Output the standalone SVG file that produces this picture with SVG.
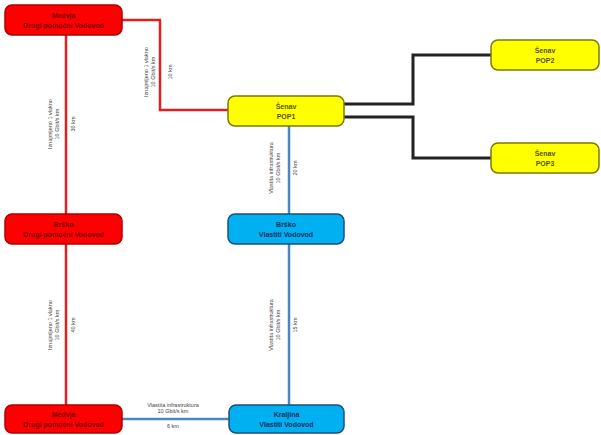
<svg xmlns="http://www.w3.org/2000/svg" width="601" height="435" viewBox="0 0 601 435">
<style>
.n rect{stroke-width:1.5}
.red rect{fill:#FF0000;stroke:#B00000}
.yel rect{fill:#FFFF00;stroke:#7A7A00}
.blu rect{fill:#00B0F0;stroke:#1F4E79}
.n text{font-family:"Liberation Sans",Arial,sans-serif;font-size:7px;font-weight:bold;text-anchor:middle}
.red text{fill:#7a0000}
.yel text{fill:#555500}
.blu text{fill:#003060}
.lr{stroke:#E02020;stroke-width:2.5;fill:none}
.lb{stroke:#4A86C0;stroke-width:2.5;fill:none}
.lk{stroke:#222;stroke-width:3;fill:none}
.lab{font-family:"Liberation Sans",Arial,sans-serif;font-size:5.5px;fill:#444;text-anchor:middle}
</style>
<rect width="601" height="435" fill="#fff"/>
<g id="connectors">
<path class="lr" d="M66 35V214M66 244V405"/>
<path class="lr" d="M122 20H160V110H228"/>
<path class="lb" d="M289 126V214M289 244V405M122 419H229"/>
<path class="lk" d="M344 104H413V55H491"/>
<path class="lk" d="M344 117H413V158H491"/>
<g class="lab">
<text transform="translate(148,72) rotate(-90)">Iznajmljeno 1 vlakno</text>
<text transform="translate(155,72) rotate(-90)">10 Gbit/s km</text>
<text transform="translate(172,72) rotate(-90)">10 km</text>
<text transform="translate(52,124) rotate(-90)">Iznajmljeno 1 vlakno</text>
<text transform="translate(59,124) rotate(-90)">10 Gbit/s km</text>
<text transform="translate(75,124) rotate(-90)">30 km</text>
<text transform="translate(52,325) rotate(-90)">Iznajmljeno 1 vlakno</text>
<text transform="translate(59,325) rotate(-90)">10 Gbit/s km</text>
<text transform="translate(75,325) rotate(-90)">40 km</text>
<text transform="translate(273,168) rotate(-90)">Vlastita infrastruktura</text>
<text transform="translate(280,168) rotate(-90)">10 Gbit/s km</text>
<text transform="translate(297,168) rotate(-90)">20 km</text>
<text transform="translate(273,325) rotate(-90)">Vlastita infrastruktura</text>
<text transform="translate(280,325) rotate(-90)">10 Gbit/s km</text>
<text transform="translate(297,325) rotate(-90)">15 km</text>
<text x="173" y="407">Vlastita infrastruktura</text>
<text x="173" y="413">10 Gbit/s km</text>
<text x="173" y="428">6 km</text>
</g>
</g>
<g id="n_medvja" class="n red"><rect x="5" y="5" width="117" height="30" rx="7"/><text x="63.5" y="18">Medvja</text><text x="63.5" y="28">Drugi pomoćni Vodovod</text></g>
<g id="n_pop1" class="n yel"><rect x="228" y="96" width="116" height="30" rx="7"/><text x="286" y="109">Šenav</text><text x="286" y="119">POP1</text></g>
<g id="n_pop2" class="n yel"><rect x="491" y="40" width="108" height="30" rx="7"/><text x="545" y="53">Šenav</text><text x="545" y="63">POP2</text></g>
<g id="n_pop3" class="n yel"><rect x="491" y="143" width="108" height="30" rx="7"/><text x="545" y="156">Šenav</text><text x="545" y="166">POP3</text></g>
<g id="n_brsko_r" class="n red"><rect x="5" y="214" width="117" height="30" rx="7"/><text x="63.5" y="227">Brško</text><text x="63.5" y="237">Drugi pomoćni Vodovod</text></g>
<g id="n_brsko_b" class="n blu"><rect x="228" y="214" width="116" height="30" rx="7"/><text x="286" y="227">Brško</text><text x="286" y="237">Vlastiti Vodovod</text></g>
<g id="n_medvja2" class="n red"><rect x="5" y="405" width="117" height="28" rx="7"/><text x="63.5" y="417">Medvja</text><text x="63.5" y="427">Drugi pomoćni Vodovod</text></g>
<g id="n_kraljina" class="n blu"><rect x="229" y="405" width="115" height="28" rx="7"/><text x="286.5" y="417">Kraljina</text><text x="286.5" y="427">Vlastiti Vodovod</text></g>
</svg>
